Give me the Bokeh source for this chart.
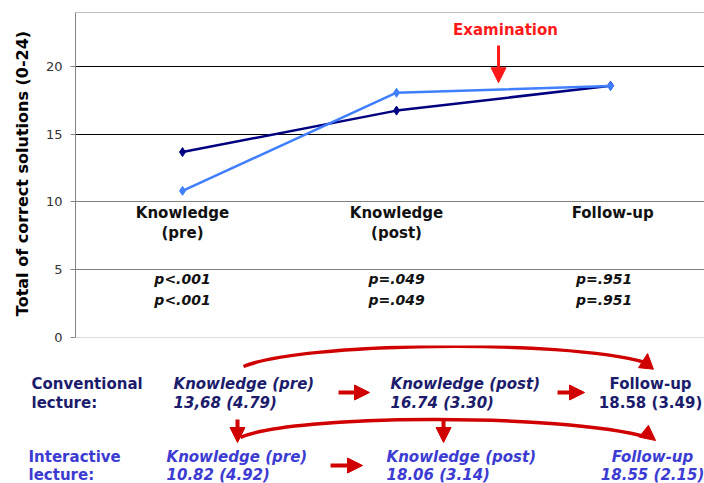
from bokeh.plotting import figure
from bokeh.models import Range1d, FixedTicker, Arrow, NormalHead
from bokeh.core.properties import value
from bokeh.embed import file_html
from bokeh.resources import INLINE

# ---------------- data ----------------
categories = ["Knowledge (pre)", "Knowledge (post)", "Follow-up"]
cat_line1 = ["Knowledge", "Knowledge", "Follow-up"]
cat_line2 = ["(pre)", "(post)", ""]
conv_mean = [13.68, 16.74, 18.58]
conv_sd = [4.79, 3.30, 3.49]
int_mean = [10.82, 18.06, 18.55]
int_sd = [4.92, 3.14, 2.15]
p_conv = ["p<.001", "p=.049", "p=.951"]
p_int = ["p<.001", "p=.049", "p=.951"]
y_ticks = [0, 5, 10, 15, 20]
grid_colors = ["#c0c0c0", "#808080", "#808080", "#000000", "#000000"]
group_names = ["Conventional", "Interactive"]
exam_label = "Examination"

xs = list(range(1, len(categories) + 1))

FONT = "DejaVu Sans"
CONV_LINE = "#000080"
INT_LINE = "#3f7fff"
CONV_TXT = "#1c1c6c"
INT_TXT = "#3c3cd2"
RED = "#d00000"
W = 704
LEFT = 75


def X(px):
    # page-pixel layout position -> category axis units
    return (px - 182) / 214 + 1


# ---------------- top chart ----------------
top = figure(width=W, height=345, x_range=Range1d(0.5, 3.439), y_range=Range1d(0, 24.2),
             output_backend="svg", toolbar_location=None, x_axis_location=None,
             min_border_left=LEFT, min_border_right=0, min_border_top=9, min_border_bottom=8)
top.outline_line_color = None
top.background_fill_color = "white"
for g in top.grid:
    g.visible = False

top.hspan(y=y_ticks, line_color=grid_colors, line_width=1)
top.hspan(y=[24], line_color="#c0c0c0", line_width=1)

ax = top.yaxis[0]
ax.ticker = FixedTicker(ticks=y_ticks)
ax.bounds = (0, 24)
ax.axis_label = "Total of correct solutions (0-24)"
ax.axis_label_text_font = FONT
ax.axis_label_text_font_style = "bold"
ax.axis_label_text_font_size = "16px"
ax.axis_label_text_color = "#000000"
ax.axis_label_standoff = 11
ax.major_label_text_font = FONT
ax.major_label_text_font_size = "13px"
ax.major_label_text_color = "#333333"
ax.major_label_standoff = 8
ax.axis_line_color = "#868686"
ax.major_tick_line_color = "#868686"
ax.major_tick_out = 5
ax.major_tick_in = 0
ax.minor_tick_line_color = None

top.line(xs, conv_mean, line_color=CONV_LINE, line_width=2.5)
top.scatter(xs, conv_mean, marker="diamond", size=9, color=CONV_LINE)
top.line(xs, int_mean, line_color=INT_LINE, line_width=2.5)
top.scatter(xs, int_mean, marker="diamond", size=9, color=INT_LINE)

lab_x = [xs[0], xs[1], xs[2] + 0.01]
top.text(x=lab_x, y=[9.15] * 3, text=cat_line1, text_font=value(FONT), text_font_style="bold",
         text_font_size="15px", text_color="#111111", text_align="center", text_baseline="middle")
top.text(x=lab_x, y=[7.68] * 3, text=cat_line2, text_font=value(FONT), text_font_style="bold",
         text_font_size="15px", text_color="#111111", text_align="center", text_baseline="middle")
p_x = [xs[0], xs[1], xs[2] - 0.03]
top.text(x=p_x, y=[4.28] * 3, text=p_conv, text_font=value(FONT), text_font_style="bold italic",
         text_font_size="14px", text_color="#111111", text_align="center", text_baseline="middle")
top.text(x=p_x, y=[2.73] * 3, text=p_int, text_font=value(FONT), text_font_style="bold italic",
         text_font_size="14px", text_color="#111111", text_align="center", text_baseline="middle")

top.text(x=[X(505)], y=[22.66], text=[exam_label], text_font=value(FONT), text_font_style="bold",
         text_font_size="15px", text_color="#ff1a1a", text_align="center", text_baseline="middle")
top.add_layout(Arrow(x_start=X(498), y_start=21.55, x_end=X(498), y_end=18.8,
                     line_color="#ff1a1a", line_width=3,
                     end=NormalHead(size=15, fill_color="#ff1a1a", line_color="#ff1a1a")))

# ---------------- bottom panel ----------------
BH = 138
bot = figure(width=W, height=BH, x_range=Range1d(0.5 - LEFT / 214, 3.439), y_range=Range1d(BH, 0),
             output_backend="svg", toolbar_location=None, x_axis_location=None, y_axis_location=None,
             min_border=0)
bot.outline_line_color = None
for g in bot.grid:
    g.visible = False


def B(py):
    return py - 345


def summary(m, s):
    return f"{m:.2f} ({s:.2f})"


conv_vals = [summary(m, s) for m, s in zip(conv_mean, conv_sd)]
conv_vals[0] = conv_vals[0].replace(".", ",", 1)
int_vals = [summary(m, s) for m, s in zip(int_mean, int_sd)]

common = dict(text_font=value(FONT), text_font_size="15px", text_baseline="middle")

# row headers
bot.text(x=[X(31)] * 2, y=[B(383), B(402)], text=[group_names[0], "lecture:"],
         text_font_style="bold", text_color=CONV_TXT, text_align="left", **common)
bot.text(x=[X(28)] * 2, y=[B(456), B(474)], text=[group_names[1], "lecture:"],
         text_font_style="bold", text_color=INT_TXT, text_align="left", **common)

# conventional row
cx_left = [X(173), X(390)]
bot.text(x=cx_left, y=[B(383)] * 2, text=categories[:2], text_font_style="bold italic",
         text_color=CONV_TXT, text_align="left", **common)
bot.text(x=cx_left, y=[B(402)] * 2, text=conv_vals[:2], text_font_style="bold italic",
         text_color=CONV_TXT, text_align="left", **common)
bot.text(x=[X(650)] * 2, y=[B(383), B(402)], text=[categories[2], conv_vals[2]],
         text_font_style="bold", text_color=CONV_TXT, text_align="center", **common)

# interactive row
ix_left = [X(166), X(386)]
bot.text(x=ix_left, y=[B(456)] * 2, text=categories[:2], text_font_style="bold italic",
         text_color=INT_TXT, text_align="left", **common)
bot.text(x=ix_left, y=[B(474)] * 2, text=int_vals[:2], text_font_style="bold italic",
         text_color=INT_TXT, text_align="left", **common)
bot.text(x=[X(652)] * 2, y=[B(456), B(474)], text=[categories[2], int_vals[2]],
         text_font_style="bold italic", text_color=INT_TXT, text_align="center", **common)


def red_arrow(x0, y0, x1, y1, lw=4, size=15, shaft=True):
    bot.add_layout(Arrow(x_start=x0, y_start=y0, x_end=x1, y_end=y1,
                         line_color=RED if shaft else None, line_width=lw,
                         end=NormalHead(size=size, fill_color=RED, line_color=RED, line_width=1)))


# short horizontal arrows
red_arrow(X(338), B(392), X(369), B(392))
red_arrow(X(557), B(392), X(584), B(392))
red_arrow(X(330), B(465), X(362), B(465))

# top curved arrow
bot.bezier(x0=[X(243)], y0=[B(366)], x1=[X(645)], y1=[B(362)],
           cx0=[X(300)], cy0=[B(342)], cx1=[X(560)], cy1=[B(338)],
           line_color=RED, line_width=3.5)
red_arrow(X(645), B(372), X(647), B(353), shaft=False)

# lower curved arrow
bot.bezier(x0=[X(240)], y0=[B(437)], x1=[X(648)], y1=[B(437)],
           cx0=[X(290)], cy0=[B(414)], cx1=[X(560)], cy1=[B(412)],
           line_color=RED, line_width=3.5)
red_arrow(X(636), B(425), X(655), B(440), shaft=False)
red_arrow(X(237), B(419), X(237), B(442))
red_arrow(X(443), B(418), X(443), B(442))

open("out.html", "w").write(file_html([top, bot], INLINE))
